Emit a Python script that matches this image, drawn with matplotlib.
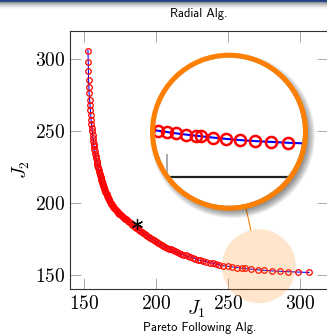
import numpy as np
import matplotlib
matplotlib.use("Agg")
import matplotlib.pyplot as plt
from matplotlib.patches import Circle
from matplotlib.lines import Line2D

# ---------------- data ----------------
j1 = [152.8, 153.0, 153.1, 153.2, 153.4, 153.6, 153.9, 154.2,
      154.45, 154.7, 154.95, 155.2, 155.45, 155.7, 156.0, 156.25, 156.5, 156.75,
      157.0, 157.3, 157.6, 157.9, 158.2, 158.5, 158.8, 159.1, 159.4, 159.7,
      160.0, 160.3, 160.6, 160.9, 161.2, 161.5,
      161.8, 162.1, 162.4, 162.7, 163.05, 163.4, 163.75, 164.1, 164.5, 164.9, 165.3, 165.7,
      166.15, 166.5, 166.9, 167.3, 167.7, 168.15, 168.6, 169.05, 169.5,
      170.0, 170.5, 171.05, 171.6, 172.15, 172.7, 173.3, 173.9, 174.5, 175.1, 175.7,
      176.35, 177.0, 177.65, 178.3, 179.0, 179.7,
      180.65, 181.6, 182.55, 183.5, 184.45, 185.4, 186.35,
      187.3, 188.25, 189.2, 190.15, 191.1, 192.05, 193.0, 194.0,
      195.1, 196.2, 197.3, 198.4, 199.5, 200.6, 201.7, 202.8, 203.9, 205.0,
      206.35, 207.7, 209.05, 210.4, 211.75, 213.1, 214.45, 215.8, 217.15,
      218.85, 220.55, 222.25, 223.95, 225.65, 227.35, 229.05, 230.75,
      232.9, 235.05, 237.2, 239.35, 241.5, 243.65,
      246.7, 249.8, 253.0, 256.5, 260.0, 261.7, 266.0, 270.6, 275.3, 280.4,
      286.0, 292.0, 299.0, 306.3]
j2 = [306.0, 298.4, 291.7, 285.9, 280.8, 276.2, 272.0, 268.1,
      264.5, 261.2, 258.1, 255.2, 252.5, 250.0, 247.65, 245.45, 243.35, 241.35,
      239.45, 237.65, 235.95, 234.3, 232.7, 231.15, 229.65, 228.2, 226.8, 225.45,
      224.15, 222.9, 221.7, 220.55, 219.45, 218.4,
      217.3, 216.2, 215.1, 214.05, 213.0, 211.95, 210.95, 209.95, 208.95, 207.95, 207.0, 206.05,
      205.2, 204.4, 203.55, 202.7, 201.9, 201.1, 200.3, 199.55, 198.8,
      198.1, 197.4, 196.7, 196.0, 195.35, 194.7, 194.05, 193.4, 192.8, 192.2, 191.6,
      191.0, 190.4, 189.8, 189.25, 188.7, 188.15,
      187.4, 186.65, 185.9, 185.15, 184.4, 183.65, 182.9,
      182.2, 181.5, 180.8, 180.1, 179.4, 178.7, 178.0, 177.3,
      176.6, 175.9, 175.2, 174.5, 173.8, 173.1, 172.4, 171.7, 171.0, 170.3,
      169.7, 169.1, 168.5, 167.9, 167.3, 166.7, 166.1, 165.45, 164.85,
      164.25, 163.7, 163.1, 162.5, 161.9, 161.35, 160.8, 160.25,
      159.75, 159.25, 158.75, 158.25, 157.75, 157.2,
      156.6, 156.15, 155.7, 155.25, 154.85, 154.65, 154.2, 153.75, 153.35, 153.0,
      152.7, 152.4, 152.15, 151.9]
star_j1 = [186.6]
star_j2 = [185.4]
xticks = [150, 200, 250, 300]
yticks = [150, 200, 250, 300]
xlabel = r"$J_1$"
ylabel = r"$J_2$"
top_text = "Radial Alg."
bottom_text = "Pareto Following Alg."

# ---------------- style / layout ----------------
plt.rcParams["mathtext.fontset"] = "cm"
plt.rcParams["axes.formatter.use_mathtext"] = True
plt.rcParams["font.family"] = ["cmr10", "DejaVu Serif"]

W, H, DPI = 327, 336, 100
fig = plt.figure(figsize=(W / DPI, H / DPI), dpi=DPI)
fig.patch.set_facecolor("white")

ORANGE = "#ff8000"
MS, MEW, LW = 4.0, 0.9, 0.75

# top beamer-like band
band = fig.add_axes([0, 1 - 10 / H, 1, 10 / H])
cols = np.array([
    [0.13, 0.25, 0.50],
    [0.18, 0.29, 0.52],
    [0.55, 0.58, 0.62],
    [0.68, 0.68, 0.68],
    [0.76, 0.76, 0.76],
    [0.83, 0.83, 0.83],
    [0.89, 0.89, 0.89],
    [0.94, 0.94, 0.94],
    [0.975, 0.975, 0.975],
    [1.0, 1.0, 1.0],
])
band.imshow(cols[:, None, :], aspect="auto", interpolation="bilinear",
            extent=[0, 1, 0, 1])
band.axis("off")

# main axes (pixel based placement)
ax = fig.add_axes([70 / W, 1 - 289 / H, 258 / W, 258 / H])
XL = (140.3, 319.5)
YL = (140.4, 319.6)
ax.set_xlim(*XL)
ax.set_ylim(*YL)
ax.set_xticks(xticks)
ax.set_yticks(yticks)
ax.tick_params(direction="in", length=8, width=0.7, color="#a8a8a8",
               top=True, right=True, labelsize=14, pad=3.5)
ax.tick_params(axis="x", pad=4)
for s in ax.spines.values():
    s.set_color("#303030")
    s.set_linewidth(0.8)

ax.plot(j1, j2, color="blue", lw=LW, marker="o", ms=MS, mfc="none",
        mec="red", mew=MEW, zorder=3)
ax.plot(star_j1, star_j2, ls="none", marker=(6, 2, 0), ms=8, color="black",
        mew=0.9, zorder=4)

ax.set_xlabel(xlabel, fontsize=14)
ax.xaxis.label.set_va("center")
ax.xaxis.set_label_coords((196 - 70) / 258, (289 - 309) / 258)
ax.set_ylabel(ylabel, fontsize=14)
ax.yaxis.label.set_va("center")
ax.yaxis.set_label_coords((21 - 70) / 258, (289 - 170) / 258)

# ---------------- spy lens ----------------
px_per_unit = 258 / (XL[1] - XL[0])
lens_cx, lens_cy = 271.5, 156.25
lens_r_px = 37.0
lens_r = lens_r_px / px_per_unit
ax.add_patch(Circle((lens_cx, lens_cy), lens_r, facecolor=ORANGE, alpha=0.2,
                    edgecolor="none", zorder=5, clip_on=False))

# big magnified circle (pixel geometry)
big_cx, big_cy = 229.0, 131.7       # pixel coords from top-left
inner_r = 74.0
ring_r = 76.5
mag = inner_r / lens_r_px

lens_px = 70 + (lens_cx - XL[0]) * px_per_unit
lens_py = 289 - (lens_cy - YL[0]) * px_per_unit
dx, dy = lens_px - big_cx, lens_py - big_cy
d = np.hypot(dx, dy)
ux, uy = dx / d, dy / d
p1 = (big_cx + ux * (ring_r + 1), big_cy + uy * (ring_r + 1))
p2 = (lens_px - ux * lens_r_px, lens_py - uy * lens_r_px)
fig.add_artist(Line2D([p1[0] / W, p2[0] / W], [1 - p1[1] / H, 1 - p2[1] / H],
                      transform=fig.transFigure, color=ORANGE, lw=0.8, zorder=6))

axin = fig.add_axes([(big_cx - inner_r) / W, 1 - (big_cy + inner_r) / H,
                     2 * inner_r / W, 2 * inner_r / H], zorder=10)
half = lens_r
axin.set_xlim(lens_cx - half, lens_cx + half)
axin.set_ylim(lens_cy - half, lens_cy + half)
axin.axis("off")

# shadow
for k in range(10):
    r = (ring_r + 6 - k * 0.9) / (2 * inner_r)
    axin.add_patch(Circle((0.5 + 3.5 / 148, 0.5 - 4.0 / 148), r,
                          transform=axin.transAxes, facecolor="black",
                          edgecolor="none", alpha=0.055, clip_on=False, zorder=0))
axin.add_patch(Circle((0.5, 0.5), 0.5, transform=axin.transAxes,
                      facecolor="white", edgecolor="none", clip_on=False, zorder=1))
clip = Circle((0.5, 0.5), 0.5, transform=axin.transAxes)

l1, = axin.plot([XL[0], XL[1]], [YL[0], YL[0]], color="#202020", lw=0.8 * mag, zorder=2)
tick_len = 11.0 / px_per_unit
l2, = axin.plot([250, 250], [YL[0], YL[0] + tick_len], color="#a8a8a8",
                lw=0.7 * mag, zorder=2)
l3, = axin.plot(j1, j2, color="blue", lw=LW * mag, marker="o", ms=MS * mag,
                mfc="none", mec="red", mew=MEW * mag, zorder=3)
for a in (l1, l2, l3):
    a.set_clip_path(clip)

axin.add_patch(Circle((0.5, 0.5), ring_r / (2 * inner_r), transform=axin.transAxes,
                      fill=False, edgecolor=ORANGE, lw=5 * 0.72, clip_on=False,
                      zorder=5))

# ---------------- texts ----------------
fig.text(198.5 / W, 1 - 14 / H, top_text, family="cmss10", fontsize=9,
         ha="center", va="center")
fig.text(200 / W, 1 - 328 / H, bottom_text, family="cmss10", fontsize=9,
         ha="center", va="center")

fig.savefig("out.png", dpi=DPI)
